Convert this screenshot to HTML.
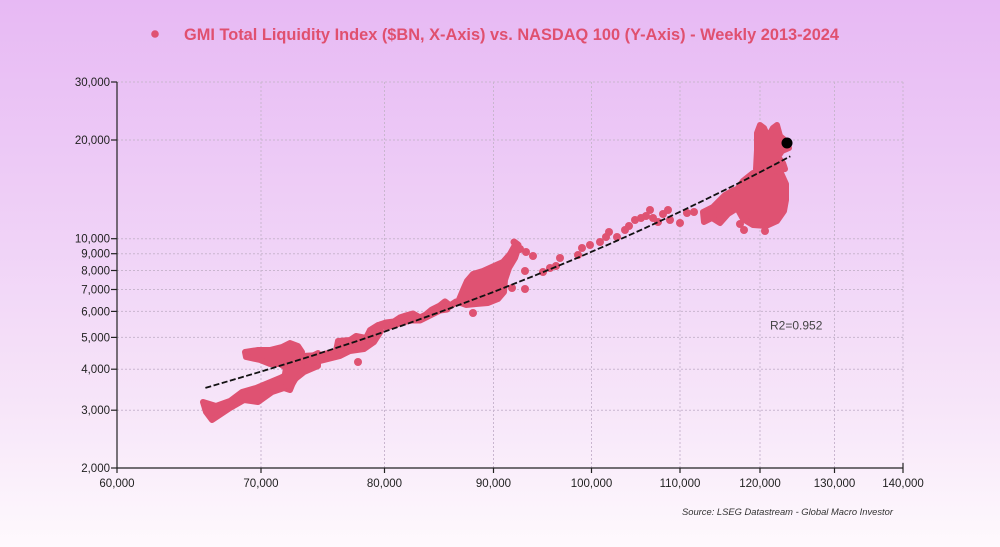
<!DOCTYPE html>
<html><head><meta charset="utf-8"><style>
html,body{margin:0;padding:0;}
body{width:1000px;height:547px;overflow:hidden;}
svg{display:block;}
</style></head><body>
<svg width="1000" height="547" viewBox="0 0 1000 547" xmlns="http://www.w3.org/2000/svg">
<defs>
<linearGradient id="bg" x1="0" y1="0" x2="0" y2="1">
<stop offset="0" stop-color="#e7b9f4"/>
<stop offset="0.45" stop-color="#f0d3f7"/>
<stop offset="0.75" stop-color="#f7e6f9"/>
<stop offset="1" stop-color="#fef9fd"/>
</linearGradient>
</defs>
<rect x="0" y="0" width="1000" height="547" fill="url(#bg)"/>

<g stroke="#c9b6cf" stroke-width="1" stroke-dasharray="2,2" fill="none">
<line x1="117" y1="82" x2="903" y2="82"/>
<line x1="117" y1="140" x2="903" y2="140"/>
<line x1="117" y1="238.7" x2="903" y2="238.7"/>
<line x1="117" y1="253.7" x2="903" y2="253.7"/>
<line x1="117" y1="270.5" x2="903" y2="270.5"/>
<line x1="117" y1="289.5" x2="903" y2="289.5"/>
<line x1="117" y1="311.4" x2="903" y2="311.4"/>
<line x1="117" y1="337.4" x2="903" y2="337.4"/>
<line x1="117" y1="369.2" x2="903" y2="369.2"/>
<line x1="117" y1="410.2" x2="903" y2="410.2"/>
<line x1="261" y1="82" x2="261" y2="468"/>
<line x1="384.5" y1="82" x2="384.5" y2="468"/>
<line x1="493.5" y1="82" x2="493.5" y2="468"/>
<line x1="591.5" y1="82" x2="591.5" y2="468"/>
<line x1="680" y1="82" x2="680" y2="468"/>
<line x1="760" y1="82" x2="760" y2="468"/>
<line x1="834.5" y1="82" x2="834.5" y2="468"/>
<line x1="903" y1="82" x2="903" y2="468"/>
</g>

<g stroke="#222" stroke-width="1.2" fill="none">
<line x1="117" y1="82" x2="117" y2="468"/>
<line x1="117" y1="468" x2="903" y2="468"/>
<line x1="111" y1="82" x2="117" y2="82"/>
<line x1="111" y1="140" x2="117" y2="140"/>
<line x1="111" y1="238.7" x2="117" y2="238.7"/>
<line x1="111" y1="253.7" x2="117" y2="253.7"/>
<line x1="111" y1="270.5" x2="117" y2="270.5"/>
<line x1="111" y1="289.5" x2="117" y2="289.5"/>
<line x1="111" y1="311.4" x2="117" y2="311.4"/>
<line x1="111" y1="337.4" x2="117" y2="337.4"/>
<line x1="111" y1="369.2" x2="117" y2="369.2"/>
<line x1="111" y1="410.2" x2="117" y2="410.2"/>
<line x1="111" y1="468" x2="117" y2="468"/>
<line x1="117" y1="468" x2="117" y2="473"/>
<line x1="261" y1="468" x2="261" y2="473"/>
<line x1="384.5" y1="468" x2="384.5" y2="473"/>
<line x1="493.5" y1="468" x2="493.5" y2="473"/>
<line x1="591.5" y1="468" x2="591.5" y2="473"/>
<line x1="680" y1="468" x2="680" y2="473"/>
<line x1="760" y1="468" x2="760" y2="473"/>
<line x1="834.5" y1="468" x2="834.5" y2="473"/>
<line x1="903" y1="463" x2="903" y2="473"/>
</g>

<g font-family="'Liberation Sans', Arial, sans-serif" font-size="11.5" fill="#222" text-anchor="end">
<text x="110" y="86">30,000</text>
<text x="110" y="144">20,000</text>
<text x="110" y="242.7">10,000</text>
<text x="110" y="257.7">9,000</text>
<text x="110" y="274.5">8,000</text>
<text x="110" y="293.5">7,000</text>
<text x="110" y="315.4">6,000</text>
<text x="110" y="341.4">5,000</text>
<text x="110" y="373.2">4,000</text>
<text x="110" y="414.2">3,000</text>
<text x="110" y="472">2,000</text>
</g>
<g font-family="'Liberation Sans', Arial, sans-serif" font-size="11.5" fill="#222" text-anchor="middle">
<text x="117" y="487">60,000</text>
<text x="261" y="487">70,000</text>
<text x="384.5" y="487">80,000</text>
<text x="493.5" y="487">90,000</text>
<text x="591.5" y="487">100,000</text>
<text x="680" y="487">110,000</text>
<text x="760" y="487">120,000</text>
<text x="834.5" y="487">130,000</text>
<text x="903" y="487">140,000</text>
</g>

<g fill="#df5272" stroke="#df5272" stroke-width="6" stroke-linecap="round" stroke-linejoin="round">
<polygon points="203,402 216,406 230,401 242,392 256,388 268,383 280,378 292,372 304,366 318,360 318,366 304,372 294,380 290,390 284,388 272,392 258,402 244,400 230,408 212,420 206,412"/>
<polygon points="245,352 258,350 270,350 282,347 290,343 298,346 302,352 300,358 294,361 298,366 308,358 318,353 320,358 306,368 296,378 290,388 284,380 286,368 280,364 270,364 260,360 246,357"/>
<polygon points="302,356 320,355 336,351 338,341 350,340 356,336 366,338 370,330 378,325 381,331 374,342 364,349 350,351 340,356 320,361 306,362"/>
<polygon points="458,302 463,290 467,281 473,274 483,271 494,266 503,262 510,254 515,245 518,249 515,258 509,268 505,280 504,292 498,299 488,303 476,304 466,305"/>
<polygon points="735,192 743,181 753,173 763,169 772,167 781,173 786,184 786,200 784,211 777,221 766,226 753,225 743,219 737,208"/>
<polygon points="756,169 757,150 757,133 760,125 764,128 768,137 773,128 777,125 780,136 787,142 789,148 782,151 778,157 783,163 785,169 770,171"/>
<polygon points="703,212 713,207 725,195 734,190 736,209 728,214 720,223 712,218 704,222"/>
</g>
<g stroke="#df5272" stroke-width="7" stroke-linecap="round" stroke-linejoin="round" fill="none">
<polyline points="380,325 386,323 394,322 400,318 406,316 413,314 420,318 426,315 432,310 440,306 445,302 450,306 456,302"/>
<polyline points="386,327 394,325 402,322 412,320 420,320 430,315 440,310 447,309"/>
<polyline points="495,276 500,270 505,266 510,262 514,256 517,250 518,245 514,242"/>
</g>
<g fill="#df5272">
<circle cx="358" cy="362" r="4"/>
<circle cx="473" cy="313" r="4"/>
<circle cx="512" cy="288" r="4"/>
<circle cx="520" cy="249" r="4"/>
<circle cx="526" cy="252" r="4"/>
<circle cx="533" cy="256" r="4"/>
<circle cx="525" cy="271" r="4"/>
<circle cx="525" cy="289" r="4"/>
<circle cx="543" cy="272" r="4"/>
<circle cx="550" cy="268" r="4"/>
<circle cx="556" cy="266" r="4"/>
<circle cx="560" cy="258" r="4"/>
<circle cx="578" cy="255" r="4"/>
<circle cx="582" cy="248" r="4"/>
<circle cx="590" cy="245" r="4"/>
<circle cx="600" cy="242" r="4"/>
<circle cx="606" cy="237" r="4"/>
<circle cx="609" cy="232" r="4"/>
<circle cx="617" cy="237" r="4"/>
<circle cx="625" cy="230" r="4"/>
<circle cx="629" cy="226" r="4"/>
<circle cx="635" cy="220" r="4"/>
<circle cx="641" cy="218" r="4"/>
<circle cx="646" cy="216" r="4"/>
<circle cx="650" cy="210" r="4"/>
<circle cx="653" cy="218" r="4"/>
<circle cx="658" cy="222" r="4"/>
<circle cx="663" cy="214" r="4"/>
<circle cx="668" cy="210" r="4"/>
<circle cx="670" cy="220" r="4"/>
<circle cx="680" cy="223" r="4"/>
<circle cx="687" cy="213" r="4"/>
<circle cx="694" cy="212" r="4"/>
<circle cx="740" cy="224" r="4"/>
<circle cx="765" cy="231" r="4"/>
<circle cx="744" cy="230" r="4"/>
</g>

<polyline points="205.4,387.9 260.0,371.9 311.5,356.0 360.3,340.0 406.7,324.0 450.9,308.0 493.1,292.1 533.4,276.1 572.1,260.1 609.2,244.2 644.8,228.2 679.2,212.2 712.3,196.2 744.3,180.3 775.2,164.3 790.3,156.3" fill="none" stroke="#111" stroke-width="1.8" stroke-dasharray="6,2.5"/>

<circle cx="787" cy="143" r="5.5" fill="#000"/>

<text x="770" y="329.5" font-family="'Liberation Sans', Arial, sans-serif" font-size="12" fill="#444">R2=0.952</text>

<circle cx="155" cy="34" r="3.8" fill="#df5272"/>
<text x="184" y="40" font-family="'Liberation Sans', Arial, sans-serif" font-size="17" font-weight="bold" fill="#e0506f" textLength="655" lengthAdjust="spacingAndGlyphs">GMI Total Liquidity Index ($BN, X-Axis) vs. NASDAQ 100 (Y-Axis) - Weekly 2013-2024</text>

<text x="682" y="515" font-family="'Liberation Sans', Arial, sans-serif" font-size="9" font-style="italic" fill="#333" textLength="211" lengthAdjust="spacingAndGlyphs">Source: LSEG Datastream - Global Macro Investor</text>
</svg>
</body></html>
